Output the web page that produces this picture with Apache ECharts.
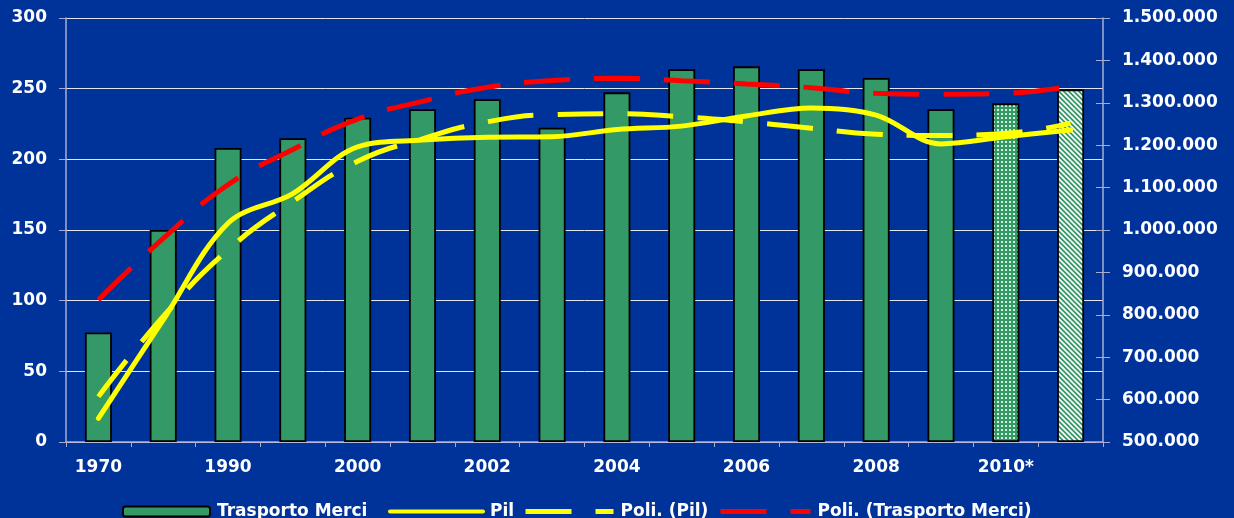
<!DOCTYPE html>
<html>
<head>
<meta charset="utf-8">
<script src="https://cdn.jsdelivr.net/npm/echarts@6/dist/echarts.min.js"></script>
<style>
html,body{margin:0;padding:0;background:#003399;}
#chart{width:1234px;height:518px;}
</style>
</head>
<body>
<div id="chart"></div>
<script>
// ---- data ----
const categories = ['1970','1980','1990','1995','2000','2001','2002','2003','2004','2005','2006','2007','2008','2009','2010*','2011*'];
const trasportoMerci = [77.5, 150, 208, 215, 229.5, 235.4, 242.5, 222.4, 247.4, 263.7, 265.8, 263.7, 257.6, 235.4, 239.6, 249.5];
const pil = [556000, 788000, 1016000, 1086000, 1196000, 1212000, 1219000, 1220000, 1237000, 1245000, 1269000, 1288000, 1271000, 1203000, 1220000, 1236000];
const poliPil = [607000, 796000, 953000, 1067000, 1162000, 1215000, 1255000, 1272000, 1274000, 1267000, 1255000, 1240000, 1226000, 1223000, 1228000, 1252000];
const poliMerci = [100.5, 144, 182, 207, 228.5, 241, 251, 255.7, 257.3, 255.6, 253.3, 250.7, 246.7, 246, 246.7, 251.5];
const leftTicks = {min: 0, max: 300, interval: 50};
const rightTicks = {min: 500000, max: 1500000, interval: 100000};

// ---- patterns ----
function dotPattern() {
  const c = document.createElement('canvas'); c.width = 4; c.height = 4;
  const g = c.getContext('2d');
  g.fillStyle = '#339966'; g.fillRect(0, 0, 4, 4);
  g.fillStyle = 'rgba(235,255,240,0.85)'; g.fillRect(1, 1, 2, 2);
  return c;
}
function stripePattern() {
  const n = 5;
  const c = document.createElement('canvas'); c.width = n; c.height = n;
  const g = c.getContext('2d');
  g.fillStyle = '#339966'; g.fillRect(0, 0, n, n);
  g.strokeStyle = '#ffffff'; g.lineWidth = 1.7;
  for (let k = -1; k <= 1; k++) {
    g.beginPath(); g.moveTo(k * n - 1, -1); g.lineTo(k * n + n + 1, n + 1); g.stroke();
  }
  return c;
}
const barFills = {14: {image: dotPattern(), repeat: 'repeat'}, 15: {image: stripePattern(), repeat: 'repeat'}};
const barData = trasportoMerci.map((v, i) => barFills[i] ? {value: v, itemStyle: {color: barFills[i]}} : v);

const FONT = 'DejaVu Sans';
const txt = {color: '#ffffff', fontFamily: FONT, fontWeight: 'bold', fontSize: 17};
const dotFmt = v => String(v).replace(/\B(?=(\d{3})+(?!\d))/g, '.');
const axisCol = '#a8acd0';
const DASH = [46, 24];

function legendAt(name, left, w, line) {
  const l = {
    data: [name], left: left, top: 503, itemWidth: w, itemHeight: 10, itemGap: 0,
    padding: 0, textStyle: Object.assign({}, txt, {padding: [0, 0, 0, 2]}),
    selectedMode: false
  };
  if (line) {
    l.itemStyle = {opacity: 0};
    l.lineStyle = line;
  }
  return l;
}

const chart = echarts.init(document.getElementById('chart'), null, {renderer: 'canvas'});
chart.setOption({
  backgroundColor: '#003399',
  animation: false,
  grid: {left: 66, right: 131, top: 18, bottom: 76},
  legend: [
    legendAt('Trasporto Merci', 122, 87),
    legendAt('Pil', 388, 93, {width: 4, type: 'solid', color: '#ffff00', cap: 'round'}),
    legendAt('Poli. (Pil)', 523, 88, {width: 5, type: DASH, color: '#ffff00'}),
    legendAt('Poli. (Trasporto Merci)', 718, 90, {width: 5, type: DASH, color: '#ff0000'})
  ],
  xAxis: {
    type: 'category', data: categories, boundaryGap: true,
    axisLine: {show: true, lineStyle: {color: axisCol, width: 1.5}},
    axisTick: {show: true, interval: 0, alignWithLabel: false, length: 5, inside: false, lineStyle: {color: axisCol}},
    axisLabel: Object.assign({}, txt, {interval: 1, margin: 17}),
    splitLine: {show: false}
  },
  yAxis: [
    {
      type: 'value', position: 'left', min: leftTicks.min, max: leftTicks.max, interval: leftTicks.interval,
      axisLine: {show: true, lineStyle: {color: axisCol, width: 1.5}},
      axisTick: {show: true, length: 7, inside: false, lineStyle: {color: axisCol}},
      axisLabel: Object.assign({}, txt, {margin: 19}),
      splitLine: {show: true, lineStyle: {color: '#e4e6f4', width: 1}}
    },
    {
      type: 'value', position: 'right', min: rightTicks.min, max: rightTicks.max, interval: rightTicks.interval,
      axisLine: {show: true, lineStyle: {color: axisCol, width: 1.5}},
      axisTick: {show: true, length: 7, inside: false, lineStyle: {color: axisCol}},
      axisLabel: Object.assign({}, txt, {margin: 19, formatter: dotFmt}),
      splitLine: {show: false}
    },
    {
      type: 'value', position: 'right', min: rightTicks.min, max: rightTicks.max, interval: rightTicks.interval,
      axisLine: {show: false},
      axisTick: {show: true, length: 7, inside: true, lineStyle: {color: axisCol}},
      axisLabel: {show: false},
      splitLine: {show: false}
    }
  ],
  series: [
    {
      name: 'Trasporto Merci', type: 'bar', yAxisIndex: 0, barWidth: 27, data: barData,
      itemStyle: {color: '#339966', borderColor: '#000000', borderWidth: 1.8},
      z: 2
    },
    {
      name: 'Pil', type: 'line', yAxisIndex: 1, data: pil, smooth: 0.35,
      symbol: 'none', showSymbol: false,
      lineStyle: {color: '#ffff00', width: 5, cap: 'round'},
      itemStyle: {color: '#ffff00'}, z: 5
    },
    {
      name: 'Poli. (Pil)', type: 'line', yAxisIndex: 1, data: poliPil, smooth: 0.5,
      symbol: 'none', showSymbol: false,
      lineStyle: {color: '#ffff00', width: 5, type: DASH, cap: 'butt'},
      itemStyle: {color: '#ffff00'}, z: 4
    },
    {
      name: 'Poli. (Trasporto Merci)', type: 'line', yAxisIndex: 0, data: poliMerci, smooth: 0.5,
      symbol: 'none', showSymbol: false,
      lineStyle: {color: '#ff0000', width: 5, type: DASH, cap: 'butt'},
      itemStyle: {color: '#ff0000'}, z: 4
    }
  ]
});
</script>
</body>
</html>
